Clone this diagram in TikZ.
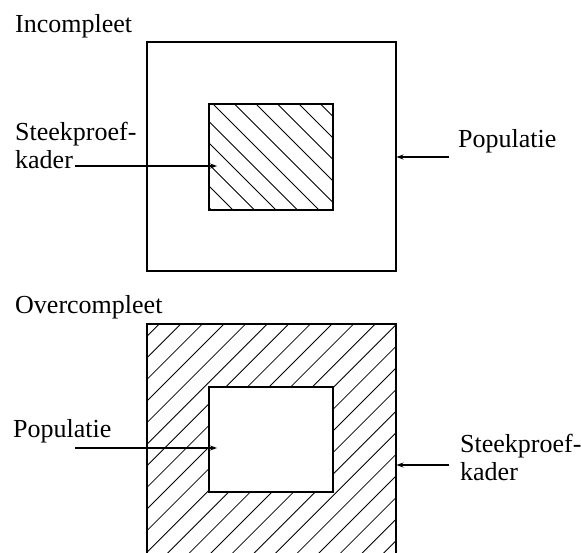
\documentclass[tikz,border=0pt]{standalone}
\usepackage{fontspec}
\setmainfont{Liberation Serif}
\usetikzlibrary{arrows.meta}
\begin{document}
\begin{tikzpicture}[x=1pt,y=-1pt,
  frame/.style={draw,line width=1.4pt,inner sep=0pt,outer sep=0pt},
  hatchline/.style={line width=0.8pt},
  label/.style={inner sep=0pt,anchor=base west,align=left,
    font=\fontsize{26}{28}\selectfont},
  pointer/.style={line width=1.1pt,-{Stealth[length=7pt,width=5pt]}}]
\useasboundingbox (0,0) rectangle (581,552);

% ---------- Incompleet: frame inside the population ----------
\node[label] (t1) at (15,32) {Incompleet};
\begin{scope}
  \clip (209,104) rectangle (333,210);
  \foreach \c in {1.5,23,...,240}
    \draw[hatchline] (\c+104,104) -- (\c+210,210);
\end{scope}
\node[frame,minimum width=249pt,minimum height=229pt] (pop1) at (271.5,156.5) {};
\node[frame,minimum width=124pt,minimum height=106pt] (kad1) at (271,157) {};

\node[label] (lk1) at (15,168) {Steekproef-\\kader};
\coordinate (lk1e) at (75,166);
\coordinate (kad1p) at (217,166);
\draw[pointer] (lk1e) -- (kad1p);

\node[label] (lp1) at (458,147) {Populatie};
\coordinate (lp1e) at (449,157);
\coordinate (pop1p) at (396.5,157);
\draw[pointer] (lp1e) -- (pop1p);

% ---------- Overcompleet: frame covers more than the population ----------
\node[label] (t2) at (15,313) {Overcompleet};
\begin{scope}
  \clip (147,324) rectangle (396,560);
  \foreach \c in {440,461.6,...,1000}
    \draw[hatchline] (\c-324,324) -- (\c-560,560);
\end{scope}
\fill[white] (209,387) rectangle (333,492);
\draw[line width=1.4pt] (147,560) -- (147,324) -- (396,324) -- (396,560);
\node[frame,minimum width=124pt,minimum height=105pt] (pop2) at (271,439.5) {};
\coordinate (kad2p) at (396.5,465);

\node[label] (lp2) at (13,437) {Populatie};
\coordinate (lp2e) at (75,448);
\coordinate (pop2p) at (217,448);
\draw[pointer] (lp2e) -- (pop2p);

\node[label] (lk2) at (460,480) {Steekproef-\\kader};
\coordinate (lk2e) at (449,465);
\draw[pointer] (lk2e) -- (kad2p);
\end{tikzpicture}
\end{document}
